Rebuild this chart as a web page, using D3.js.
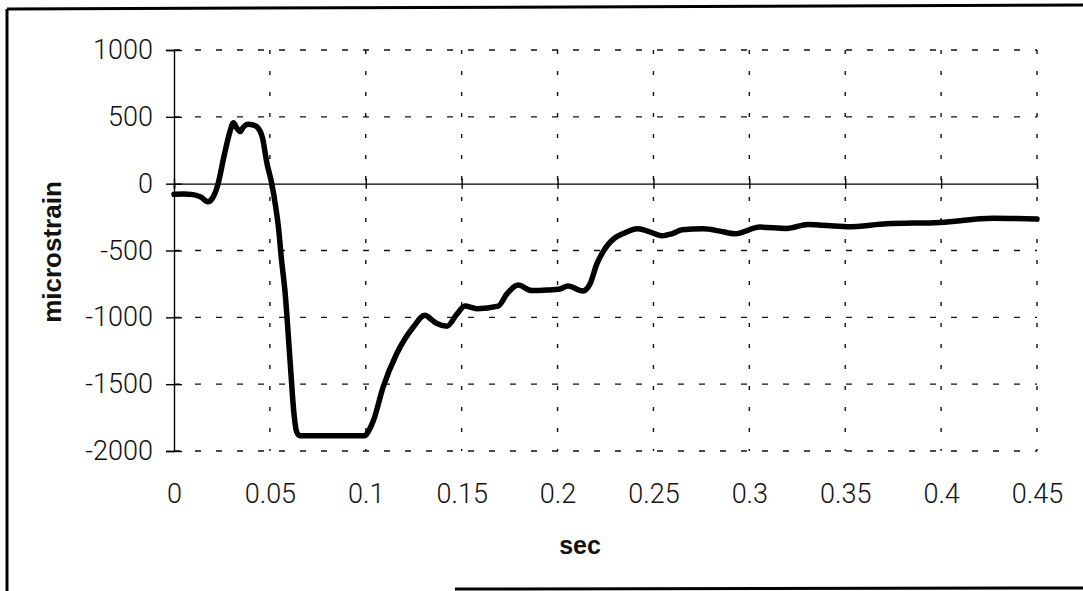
<!DOCTYPE html>
<html>
<head>
<meta charset="utf-8">
<script src="https://cdn.jsdelivr.net/npm/d3@7"></script>
<style>
  html, body { margin: 0; padding: 0; background: #fff; }
  svg { display: block; }
  .tick-label { font-family: Roboto, "Liberation Sans", sans-serif; font-weight: 300; font-size: 27px; fill: #111; }
  .title { font-family: "Liberation Sans", Arial, sans-serif; font-weight: bold; fill: #111; }
</style>
</head>
<body>
<svg id="chart" width="1083" height="591"></svg>
<script>
// ---- data ----
const timeSec = [0, 0.005, 0.010, 0.014, 0.0177, 0.020, 0.023, 0.026, 0.029, 0.031, 0.033, 0.0345, 0.036, 0.0386, 0.041, 0.043, 0.045, 0.046, 0.0485, 0.051, 0.053, 0.0545, 0.056, 0.058, 0.0605, 0.0626, 0.0638, 0.0655, 0.080, 0.0996, 0.1015, 0.104, 0.109, 0.116, 0.1247, 0.1309, 0.1345, 0.137, 0.1423, 0.1475, 0.1517, 0.158, 0.169, 0.1736, 0.1794, 0.1866, 0.1945, 0.2012, 0.2054, 0.2132, 0.2169, 0.2205, 0.2237, 0.230, 0.234, 0.2419, 0.248, 0.2544, 0.2596, 0.265, 0.2758, 0.2847, 0.2925, 0.3055, 0.3196, 0.3305, 0.351, 0.3717, 0.3994, 0.427, 0.45];
const microstrain = [-80, -78, -82, -100, -135, -110, 0, 200, 380, 455, 410, 390, 420, 445, 440, 428, 390, 350, 150, 0, -170, -330, -560, -825, -1321, -1727, -1850, -1885, -1885, -1885, -1850, -1772, -1524, -1276, -1074, -985, -1020, -1045, -1066, -976, -916, -935, -916, -825, -758, -800, -796, -788, -766, -803, -751, -600, -510, -405, -375, -338, -360, -390, -375, -345, -338, -355, -375, -325, -335, -305, -322, -300, -290, -258, -265];
const xTicks = [0, 0.05, 0.1, 0.15, 0.2, 0.25, 0.3, 0.35, 0.4, 0.45];
const yTicks = [-2000, -1500, -1000, -500, 0, 500, 1000];
const xTitle = "sec";
const yTitle = "microstrain";

// ---- layout ----
const svg = d3.select("#chart");
const x = d3.scaleLinear().domain([0, 0.45]).range([174, 1037]);
const y = d3.scaleLinear().domain([-2000, 1000]).range([451, 50]);

// outer border (scanned frame)
const border = svg.append("g").attr("stroke", "#000").attr("stroke-width", 3).attr("fill", "none");
border.append("line").attr("x1", 7).attr("y1", 9).attr("x2", 7).attr("y2", 591);
border.append("line").attr("x1", 7).attr("y1", 9).attr("x2", 1083).attr("y2", 5);
border.append("line").attr("x1", 455).attr("y1", 589).attr("x2", 1083).attr("y2", 588);

// gridlines
const grid = svg.append("g").attr("stroke", "#111").attr("stroke-width", 1.4).attr("fill", "none");
grid.selectAll("line.h").data(yTicks.filter(d => d !== 0)).join("line")
  .attr("class", "h")
  .attr("x1", x(0)).attr("x2", x(0.45))
  .attr("y1", d => y(d)).attr("y2", d => y(d))
  .attr("stroke-dasharray", "6,15");
grid.selectAll("line.v").data(xTicks.filter(d => d !== 0)).join("line")
  .attr("class", "v")
  .attr("x1", d => x(d)).attr("x2", d => x(d))
  .attr("y1", y(1000)).attr("y2", y(-2000))
  .attr("stroke-dasharray", "4,17");

// y axis
const yAxis = d3.axisLeft(y).tickValues(yTicks).tickSize(8).tickPadding(13).tickFormat(d => String(d));
const gy = svg.append("g").attr("transform", `translate(${x(0)},0)`).call(yAxis);
gy.select(".domain").attr("stroke", "#000").attr("stroke-width", 1.4);
gy.selectAll(".tick line").attr("x1", 8).attr("stroke", "#000").attr("stroke-width", 1.4);
gy.selectAll(".tick text").attr("class", "tick-label").attr("fill", "#111").attr("font-size", null).attr("font-family", null);

// x axis line at zero with crossing ticks
const xAxis = d3.axisBottom(x).tickValues(xTicks).tickSize(5).tickFormat("");
const gx = svg.append("g").attr("transform", `translate(0,${y(0)})`).call(xAxis);
gx.select(".domain").attr("stroke", "#000").attr("stroke-width", 1.4);
gx.selectAll(".tick line").attr("y1", -5).attr("stroke", "#000").attr("stroke-width", 1.4);

// x tick labels below plot
const xLab = d3.axisBottom(x).tickValues(xTicks).tickSize(0).tickPadding(0).tickFormat(d => String(d));
const gxl = svg.append("g").attr("transform", `translate(0,484)`).call(xLab);
gxl.select(".domain").remove();
gxl.selectAll(".tick text").attr("class", "tick-label").attr("fill", "#111").attr("font-size", null).attr("font-family", null);

// data line
const line = d3.line().x((d, i) => x(timeSec[i])).y(d => y(d)).curve(d3.curveMonotoneX);
svg.append("path").datum(microstrain)
  .attr("d", line)
  .attr("fill", "none").attr("stroke", "#000").attr("stroke-width", 5.5)
  .attr("stroke-linejoin", "round").attr("stroke-linecap", "round");

// titles
svg.append("text").attr("class", "title").attr("font-size", 25)
  .attr("x", 580).attr("y", 554).attr("text-anchor", "middle").text(xTitle);
svg.append("text").attr("class", "title").attr("font-size", 26)
  .attr("transform", "translate(61,252) rotate(-90)").attr("text-anchor", "middle").text(yTitle);
</script>
</body>
</html>
